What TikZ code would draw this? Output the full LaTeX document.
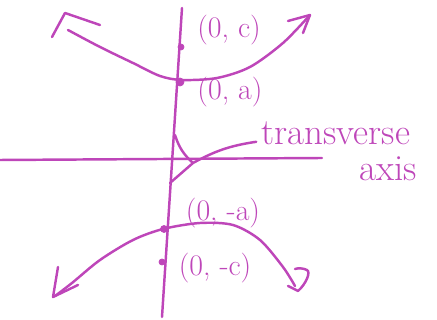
\documentclass[tikz,border=0pt]{standalone}
\usepackage{tikz}
\definecolor{marker}{RGB}{190,70,185}
\tikzset{
  pen/.style={draw=marker,line width=1.4pt,line cap=round,line join=round},
  hand/.style={text=marker,inner sep=0pt,font=\fontsize{17}{20}\selectfont},
  bighand/.style={hand,font=\fontsize{21}{24}\selectfont},
  dot/.style={fill=marker,draw=marker}
}
\begin{document}
\begin{tikzpicture}[x=0.02cm,y=-0.02cm]
\useasboundingbox (0,0) rectangle (437,320);
% axes
\coordinate (ytop) at (182,8);
\coordinate (ybot) at (162,317);
\coordinate (xleft) at (0,160);
\coordinate (xright) at (322,158);
\draw[pen] (ytop) -- (ybot);
\draw[pen] (xleft) -- (xright);
% upper branch
\draw[pen] plot[smooth] coordinates {(68,30) (100,47) (133,63) (160,76) (182,80) (217,78) (250,67) (283,43) (310,15)};
\draw[pen] (52,37) -- (65,13) -- (100,25);
\draw[pen] (288,21) -- (310,15) -- (303,33);
% lower branch
\draw[pen] plot[smooth] coordinates {(55,296) (72,283) (100,260) (133,240) (163,229) (200,223) (233,225) (260,240) (283,267) (295,286)};
\draw[pen] (58,267) -- (53,297) -- (78,285);
\draw[pen] (288,286) -- (298,291) .. controls (306,284) and (311,272) .. (307,270) .. controls (303,268) and (298,268) .. (295,269);
% foci and vertices
\coordinate (focC) at (181,47);
\coordinate (vertA) at (180,82);
\coordinate (vertNegA) at (164,229);
\coordinate (focNegC) at (162,262);
\filldraw[dot] (focC) circle (3);
\filldraw[dot] (vertA) circle (4);
\filldraw[dot] (vertNegA) circle (3.5);
\filldraw[dot] (focNegC) circle (3);
% labels
\node[hand] (lblC) at (229,30) {(0, c)};
\node[hand] (lblA) at (230,92) {(0, a)};
\node[hand] (lblNegA) at (223,213) {(0, -a)};
\node[hand] (lblNegC) at (215,268) {(0, -c)};
\node[bighand] (lblTrans) at (336,133) {transverse};
\node[bighand] (lblAxis) at (388,169) {axis};
% leader to the transverse axis
\coordinate (fork) at (193,163);
\draw[pen] ([xshift=-3pt,yshift=-5pt]lblTrans.west) to[bend right=10] (fork);
\draw[pen] (175,135) to[bend right=15] (fork);
\draw[pen] (fork) -- (170,183);
\end{tikzpicture}
\end{document}
